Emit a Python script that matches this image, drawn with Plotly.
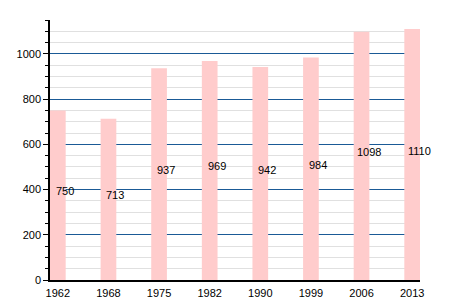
import plotly.graph_objects as go

years = ["1962", "1968", "1975", "1982", "1990", "1999", "2006", "2013"]
population = [750, 713, 937, 969, 942, 984, 1098, 1110]
y_ticks = [0, 200, 400, 600, 800, 1000]

fig = go.Figure()
fig.add_trace(go.Bar(
    x=list(range(len(years))), y=population,
    marker=dict(color="#ffcccc", line=dict(width=0)),
    width=0.31, hoverinfo="skip",
))

for i, v in enumerate(population):
    fig.add_annotation(x=i, y=v / 2, text=str(v), showarrow=False,
                       xshift=7, yshift=4,
                       font=dict(family="Liberation Sans", size=11, color="#000"))

fig.update_layout(
    width=450, height=300,
    margin=dict(l=50, r=30, t=20, b=20),
    paper_bgcolor="white", plot_bgcolor="white",
    showlegend=False,
    font=dict(family="Liberation Sans", size=11, color="#000"),
    xaxis=dict(
        tickmode="array", tickvals=list(range(len(years))), ticktext=years,
        range=[-0.155, 7.155], showgrid=False, zeroline=False,
        showline=True, linecolor="#000", linewidth=1.5, ticks="",
        ticklabelstandoff=2, automargin=False, fixedrange=True,
    ),
    yaxis=dict(
        range=[0, 1150], tickmode="array", tickvals=y_ticks,
        showgrid=True, gridcolor="#1a5a96", gridwidth=1,
        zeroline=False, showline=True, linecolor="#000", linewidth=1.5,
        ticks="outside", ticklen=5, tickcolor="#000", automargin=False,
        minor=dict(dtick=50, ticks="outside", ticklen=3, tickcolor="#000",
                   showgrid=True, gridcolor="#e0e0e0", gridwidth=1),
    ),
)

fig.write_html("out.html")
